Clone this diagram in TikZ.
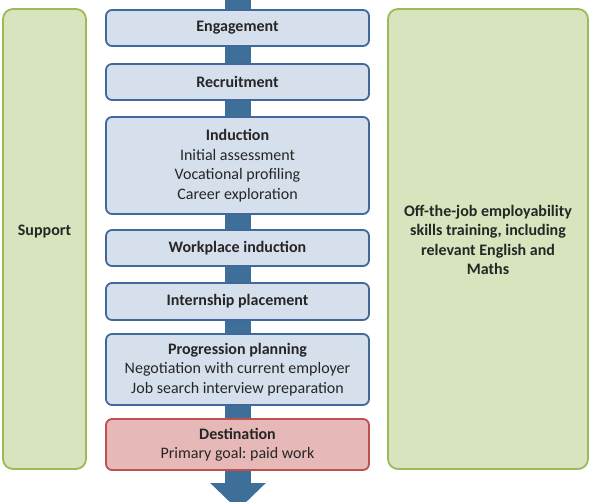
\documentclass[tikz,border=0pt]{standalone}
\usepackage{fontspec}
\setmainfont{Carlito}
\usepackage{tikz}
\usetikzlibrary{arrows.meta,positioning}
\frenchspacing
\definecolor{stageblue}{HTML}{D5E0EC}
\definecolor{edgeblue}{HTML}{41689A}
\definecolor{flowblue}{HTML}{3E6F99}
\definecolor{goalred}{HTML}{E6B9B8}
\definecolor{edgered}{HTML}{C0504D}
\definecolor{sidegreen}{HTML}{D7E4BD}
\definecolor{edgegreen}{HTML}{9BBB59}
\definecolor{inktext}{HTML}{262626}
\newcommand{\bodyfont}{\fontsize{16}{19.5}\selectfont}
\tikzset{
  stage/.style={rounded corners=6pt, draw=edgeblue, line width=1.8pt,
                fill=stageblue, align=center, inner sep=0pt,
                minimum width=263pt, text=inktext, font=\bodyfont},
  goal/.style={stage, draw=edgered, fill=goalred},
  side/.style={rounded corners=10pt, draw=edgegreen, line width=1.8pt,
               fill=sidegreen, inner sep=0pt, minimum height=460pt},
  sidetxt/.style={align=center, text=inktext, font=\bodyfont\bfseries},
  bigflow/.style={draw=flowblue, line width=26pt,
                  -{Triangle[length=27pt,width=54pt]}},
}

\begin{document}
\begin{tikzpicture}[x=1pt, y=-1pt]
\useasboundingbox (0,0) rectangle (593,502);

% ------------------------- flow arrow -----------------------------------
\coordinate (top) at (238,0);
\coordinate (tip) at (238,510);
\draw[bigflow] (top) -- (tip);

% ------------------------- side panels ----------------------------------
\node[side, minimum width=83pt] at (44.5,239) (support) {};
\node[sidetxt] at (44.5,232) (supporttxt) {Support};
\node[side, minimum width=200pt] at (488,239) (offjob) {};
\node[sidetxt] at (488,240) (offjobtxt)
   {Off-the-job employability\\skills training, including\\
    relevant English and\\Maths};

% ------------------------- stages ---------------------------------------
\node[stage, minimum height=36pt] at (237.5,28) (engage)
   {\textbf{Engagement}};
\node[stage, minimum height=36pt] at (237.5,82) (recruit)
   {\textbf{Recruitment}};
\node[stage, minimum height=97pt] at (237.5,165.5) (induct)
   {\textbf{Induction}\\Initial assessment\\Vocational profiling\\
    Career exploration};
\node[stage, minimum height=36pt] at (237.5,248) (workind)
   {\textbf{Workplace induction}};
\node[stage, minimum height=37pt] at (237.5,301.5) (intern)
   {\textbf{Internship placement}};
\node[stage, minimum height=71pt] at (237.5,369.5) (progress)
   {\textbf{Progression planning}\\Negotiation with current employer\\
    Job search interview preparation};
\node[goal, minimum height=51pt] at (237.5,444.5) (dest)
   {\textbf{Destination}\\Primary goal: paid work};
\end{tikzpicture}
\end{document}
